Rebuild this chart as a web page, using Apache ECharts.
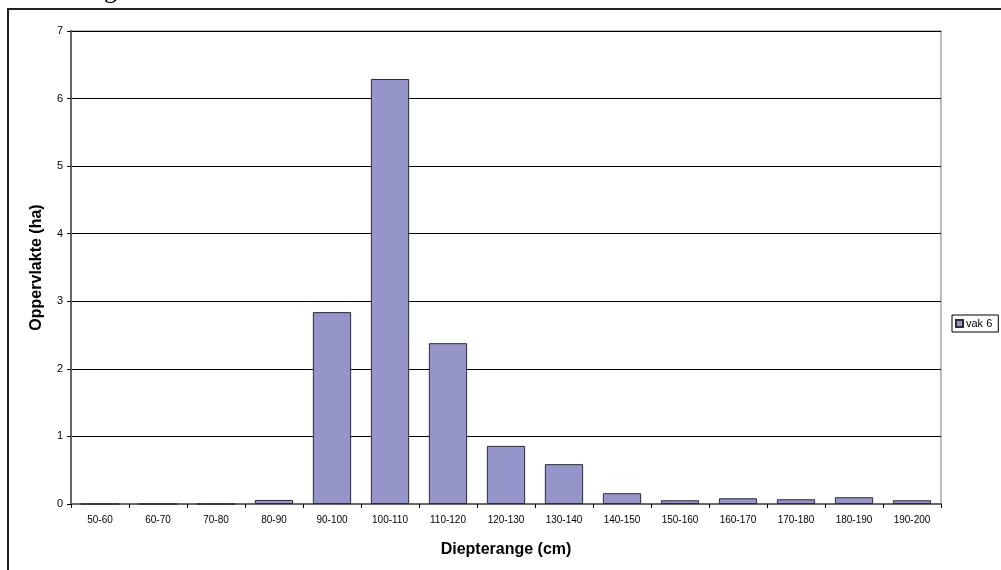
<!DOCTYPE html>
<html>
<head>
<meta charset="utf-8">
<script src="https://cdn.jsdelivr.net/npm/echarts@6/dist/echarts.min.js"></script>
<style>
  html, body { margin: 0; padding: 0; background: #fff; }
  #chart { width: 1001px; height: 570px; }
</style>
</head>
<body>
<div id="chart"></div>
<script>
// Depth classes (cm) and surface per class (ha)
const categories = ['50-60', '60-70', '70-80', '80-90', '90-100', '100-110', '110-120',
  '120-130', '130-140', '140-150', '150-160', '160-170', '170-180', '180-190', '190-200'];
const vak6 = [0, 0, 0, 0.06, 2.84, 6.29, 2.38, 0.86, 0.59, 0.16, 0.055, 0.085, 0.07, 0.10, 0.055];
const seriesName = 'vak 6';
const yTicks = [0, 1, 2, 3, 4, 5, 6, 7];

const SANS = '"Liberation Sans", Arial, sans-serif';
const chart = echarts.init(document.getElementById('chart'), null, { renderer: 'canvas' });

chart.setOption({
  animation: false,
  backgroundColor: '#fff',
  textStyle: { fontFamily: SANS },
  graphic: [
    {
      type: 'rect',
      shape: { x: 8, y: 9, width: 1010, height: 580 },
      style: { fill: 'none', stroke: '#222', lineWidth: 2 },
      silent: true
    },
    {
      // heading above the frame, running off the top of the page
      type: 'text',
      style: {
        x: 117, y: 4, text: 'Verdeling',
        textAlign: 'right', verticalAlign: 'bottom',
        fill: '#000', font: '26px "Liberation Serif", serif'
      },
      silent: true
    }
  ],
  grid: {
    left: 71, right: 60, top: 31, bottom: 66,
    show: true, borderColor: '#bdbdbd', borderWidth: 2, backgroundColor: '#fff'
  },
  legend: {
    data: [seriesName],
    left: 952, top: 315,
    orient: 'vertical',
    icon: 'rect',
    itemWidth: 7, itemHeight: 7, itemGap: 4,
    padding: [3, 6, 3, 3],
    borderColor: '#000', borderWidth: 1,
    textStyle: { fontSize: 11, color: '#000', fontFamily: SANS, padding: [0, 0, 0, -2] }
  },
  xAxis: {
    type: 'category',
    data: categories,
    boundaryGap: true,
    name: 'Diepterange (cm)',
    nameLocation: 'middle',
    nameGap: 38,
    nameTextStyle: { fontSize: 16, fontWeight: 'bold', color: '#000', fontFamily: SANS },
    axisLine: { lineStyle: { color: '#666', width: 2 } },
    axisTick: { show: true, alignWithLabel: false, length: 4, lineStyle: { color: '#000', width: 1 } },
    axisLabel: { fontSize: 10, color: '#000', margin: 11, interval: 0, fontFamily: SANS },
    splitLine: { show: false }
  },
  yAxis: {
    type: 'value',
    min: 0, max: 7, interval: 1,
    name: 'Oppervlakte (ha)',
    nameLocation: 'middle',
    nameGap: 26,
    nameTextStyle: { fontSize: 16, fontWeight: 'bold', color: '#000', fontFamily: SANS },
    axisLine: { show: true, lineStyle: { color: '#666', width: 2 } },
    axisTick: { show: true, length: 4, lineStyle: { color: '#000' } },
    axisLabel: {
      fontSize: 11, color: '#000', margin: 8, fontFamily: SANS,
      formatter: v => (yTicks.indexOf(v) >= 0 ? String(v) : '')
    },
    splitLine: { show: true, lineStyle: { color: '#000', width: 1 } }
  },
  series: [{
    name: seriesName,
    type: 'bar',
    data: vak6,
    barCategoryGap: '34%',
    itemStyle: { color: '#9595c9', borderColor: '#2a2a3a', borderWidth: 1 }
  }]
});
</script>
</body>
</html>
